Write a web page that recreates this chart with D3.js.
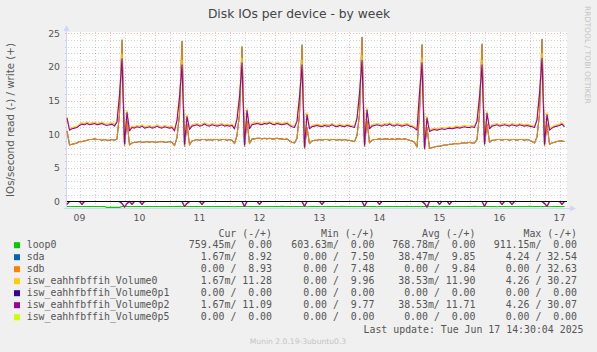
<!DOCTYPE html>
<html><head><meta charset="utf-8">
<script src="https://cdn.jsdelivr.net/npm/d3@7"></script>
<style>html,body{margin:0;padding:0;background:#f0f0f0;}svg{display:block;}</style>
</head><body>
<svg id="chart" width="597" height="352"></svg>
<script>
// ---------- DATA (hourly samples, starting 2025-06-09 07:00) ----------
const startTime = new Date(2025, 5, 9, 7, 0);
const endTime = new Date(2025, 5, 17, 15, 0);
const dayLabels = ["09","10","11","12","13","14","15","16","17"];
const yTicks = [0, 5, 10, 15, 20, 25];

const sdbWrite = [
10.5,8.4,8.5,8.6,8.7,8.9,8.9,9.0,9.1,9.2,9.2,9.3,9.2,9.2,9.1,9.2,9.1,9.1,9.2,9.1,9.3,
13.0,24.0,8.3,12.0,8.4,
8.7,8.8,8.8,8.9,8.8,8.8,8.9,8.8,8.9,8.8,8.8,8.9,8.9,8.8,8.8,8.9,8.8,
8.3,9.5,
13.0,23.8,8.2,11.5,8.4,
9.0,9.1,9.2,9.1,9.2,9.2,9.1,9.2,9.1,9.2,9.2,9.1,9.2,9.2,9.1,9.2,9.1,
8.6,9.8,
13.0,23.0,8.2,12.0,8.6,
9.3,9.3,9.4,9.4,9.3,9.4,9.3,9.4,9.3,9.3,9.4,9.3,9.3,9.2,9.3,9.0,8.8,8.7,
9.4,
13.0,23.1,7.9,11.0,8.6,
9.0,9.1,9.1,9.2,9.1,9.2,9.2,9.1,9.2,9.2,9.1,9.2,9.1,9.2,9.1,9.1,9.0,8.9,
9.8,
13.0,24.4,8.2,12.0,8.7,
9.1,9.2,9.2,9.3,9.2,9.3,9.3,9.2,9.3,9.2,9.3,9.3,9.2,9.3,9.2,9.1,9.0,
8.8,8.1,
13.0,23.3,7.8,11.0,7.9,
8.0,8.1,8.2,8.2,8.3,8.4,8.4,8.5,8.5,8.6,8.6,8.6,8.7,8.7,8.7,8.8,8.7,8.7,
9.2,
13.0,23.4,8.4,11.5,8.8,
9.1,9.1,9.2,9.2,9.1,9.2,9.2,9.1,9.2,9.2,9.1,9.2,9.2,9.1,9.2,9.1,8.9,8.7,
9.6,
13.0,24.1,8.3,11.5,8.5,
8.7,8.8,8.9,9.0,9.0,8.9];

const sdaWrite = [
10.5,8.4,8.5,8.6,8.7,8.9,8.9,9.0,9.1,9.2,9.2,9.3,9.2,9.2,9.1,9.2,9.1,9.1,9.2,9.1,9.3,
13.0,24.0,8.3,12.0,8.4,
8.7,8.8,8.8,8.9,8.8,8.8,8.9,8.8,8.9,8.8,8.8,8.9,8.9,8.8,8.8,8.9,8.8,
8.3,9.5,
13.0,23.8,8.2,11.5,8.4,
9.0,9.1,9.2,9.1,9.2,9.2,9.1,9.2,9.1,9.2,9.2,9.1,9.2,9.2,9.1,9.2,9.1,
8.6,9.8,
13.0,23.0,8.2,12.0,8.6,
9.3,9.3,9.4,9.4,9.3,9.4,9.3,9.4,9.3,9.3,9.4,9.3,9.3,9.2,9.3,9.0,8.8,8.7,
9.4,
13.0,23.3,7.9,11.0,8.6,
9.0,9.1,9.1,9.2,9.1,9.2,9.2,9.1,9.2,9.2,9.1,9.2,9.1,9.2,9.1,9.1,9.0,8.9,
9.8,
13.0,24.4,8.2,12.0,8.7,
9.1,9.2,9.2,9.3,9.2,9.3,9.3,9.2,9.3,9.2,9.3,9.3,9.2,9.3,9.2,9.1,9.0,
8.8,8.1,
13.0,23.3,7.8,11.0,7.9,
8.0,8.1,8.2,8.2,8.3,8.4,8.4,8.5,8.5,8.6,8.6,8.6,8.7,8.7,8.7,8.8,8.7,8.7,
9.2,
13.0,23.4,8.4,11.5,8.8,
9.1,9.1,9.2,9.2,9.1,9.2,9.2,9.1,9.2,9.2,9.1,9.2,9.2,9.1,9.2,9.1,8.9,8.7,
9.6,
13.0,24.1,8.3,11.5,8.5,
8.7,8.8,8.9,9.0,9.0,8.9];

const vol0p2Write = [
12.4,10.6,10.8,10.9,11.0,11.3,11.5,11.4,11.6,11.4,11.5,11.6,11.4,11.5,11.6,11.4,11.3,11.4,11.5,11.2,11.8,
15.8,21.2,8.6,13.2,10.5,
11.0,10.9,11.1,11.0,11.2,10.9,11.0,11.1,10.9,11.0,11.2,11.0,10.9,11.1,11.0,10.9,11.0,
10.5,12.0,
15.5,20.3,8.5,12.6,10.7,
11.2,11.3,11.4,11.2,11.3,11.5,11.3,11.2,11.4,11.3,11.2,11.3,11.4,11.2,11.3,11.2,11.3,
10.8,12.2,
15.5,20.6,8.4,13.5,10.8,
11.4,11.5,11.6,11.5,11.4,11.6,11.5,11.7,11.5,11.4,11.6,11.5,11.4,11.5,11.6,11.3,11.1,11.0,
11.9,
15.5,20.3,8.1,12.9,10.8,
11.1,11.2,11.3,11.2,11.1,11.3,11.2,11.2,11.4,11.2,11.1,11.3,11.2,11.1,11.3,11.2,11.1,11.0,
12.3,
16.0,21.0,8.4,13.6,10.8,
11.2,11.3,11.4,11.3,11.2,11.4,11.3,11.5,11.3,11.2,11.4,11.3,11.2,11.3,11.4,11.2,11.1,
10.9,10.6,
16.1,20.6,7.9,12.4,10.4,
10.6,10.7,10.6,10.7,10.8,10.7,10.8,10.9,10.8,10.9,11.0,10.9,11.0,11.1,11.0,11.0,11.1,11.0,
11.9,
15.5,20.3,8.6,13.1,10.8,
11.2,11.3,11.4,11.2,11.3,11.4,11.3,11.2,11.4,11.3,11.2,11.4,11.3,11.2,11.3,11.2,11.1,11.0,
12.1,
16.0,21.3,8.5,12.9,10.6,
10.9,11.1,11.2,11.3,11.5,11.1];

const vol0Write = [
12.6,10.8,11.0,11.1,11.2,11.5,11.7,11.6,11.8,11.6,11.7,11.8,11.6,11.7,11.8,11.6,11.5,11.6,11.7,11.4,12.0,
16.2,21.9,8.8,13.5,10.7,
11.2,11.1,11.3,11.2,11.4,11.1,11.2,11.3,11.1,11.2,11.4,11.2,11.1,11.3,11.2,11.1,11.2,
10.7,12.2,
15.9,21.0,8.7,12.9,10.9,
11.4,11.5,11.6,11.4,11.5,11.7,11.5,11.4,11.6,11.5,11.4,11.5,11.6,11.4,11.5,11.4,11.5,
11.0,12.4,
15.9,21.3,8.6,13.8,11.0,
11.6,11.7,11.8,11.7,11.6,11.8,11.7,11.9,11.7,11.6,11.8,11.7,11.6,11.7,11.8,11.5,11.3,11.2,
12.1,
15.9,21.0,8.3,13.2,11.0,
11.3,11.4,11.5,11.4,11.3,11.5,11.4,11.4,11.6,11.4,11.3,11.5,11.4,11.3,11.5,11.4,11.3,11.2,
12.5,
16.4,21.7,8.6,13.9,11.0,
11.4,11.5,11.6,11.5,11.4,11.6,11.5,11.7,11.5,11.4,11.6,11.5,11.4,11.5,11.6,11.4,11.3,
11.1,10.8,
16.5,21.3,8.1,12.7,10.6,
10.8,10.9,10.8,10.9,11.0,10.9,11.0,11.1,11.0,11.1,11.2,11.1,11.2,11.3,11.2,11.2,11.3,11.2,
12.1,
15.9,21.0,8.8,13.4,11.0,
11.4,11.5,11.6,11.4,11.5,11.6,11.5,11.4,11.6,11.5,11.4,11.6,11.5,11.4,11.5,11.4,11.3,11.2,
12.3,
16.4,22.0,8.7,13.2,10.8,
11.1,11.3,11.4,11.5,11.7,11.3];

// reads (shown below zero)
const loop0Read = [
0.76,0.76,0.75,0.76,0.76,0.76,0.75,0.76,0.76,0.76,0.76,0.75,0.76,0.76,0.76,0.76,0.88,0.88,0.88,0.88,
0.88,0.88,0.76,0.76,0.75,0.76,0.76,0.76,0.76,0.75,0.76,0.76,0.76,0.76,0.76,0.75,0.76,0.76,0.76,0.76,
0.76,0.75,0.76,0.76,0.76,0.72,0.76,0.76,0.76,0.76,0.75,0.76,0.76,0.76,0.76,0.76,0.75,0.76,0.76,0.76,
0.76,0.76,0.75,0.76,0.76,0.76,0.76,0.80,0.76,0.76,0.76,0.75,0.76,0.76,0.76,0.76,0.76,0.75,0.76,0.76,
0.76,0.76,0.76,0.75,0.76,0.76,0.72,0.76,0.76,0.76,0.76,0.75,0.76,0.76,0.76,0.76,0.80,0.76,0.76,0.76,
0.76,0.75,0.76,0.76,0.76,0.76,0.76,0.75,0.76,0.76,0.72,0.76,0.76,0.76,0.75,0.76,0.76,0.76,0.76,0.76,
0.75,0.76,0.76,0.76,0.80,0.76,0.76,0.75,0.76,0.76,0.76,0.76,0.76,0.75,0.76,0.76,0.72,0.76,0.76,0.76,
0.76,0.76,0.75,0.76,0.76,0.76,0.76,0.76,0.75,0.80,0.76,0.76,0.76,0.76,0.75,0.76,0.76,0.76,0.76,0.76,
0.75,0.76,0.76,0.72,0.76,0.76,0.76,0.75,0.76,0.76,0.76,0.76,0.80,0.76,0.75,0.76,0.76,0.76,0.76,0.76,
0.75,0.76,0.76,0.76,0.76,0.72,0.76,0.76,0.75,0.76,0.76,0.76,0.76,0.80,0.76,0.75,0.76,0.76,0.76,0.76];

const volRead = [
0.45,0,0,0,0,0,0.45,0,0,0, 0,0,0,0,0,0,0,0,0,0,
0,0,0.3,0.85,0.3,0,0.45,0,0,0, 0.45,0,0,0,0,0,0,0,0,0,
0,0,0,0,0,0,0,0.75,0.3,0, 0,0,0,0,0.45,0,0,0,0,0,
0,0,0,0,0,0,0,0,0,0, 0,0.75,0,0,0,0,0,0.45,0,0,
0,0,0,0,0,0,0,0,0,0, 0,0,0,0,0,0.7,0,0,0,0,
0,0,0.45,0,0,0,0,0,0,0, 0,0,0,0,0,0,0,0,0,0.7,
0,0,0,0,0,0.45,0,0,0,0, 0,0,0,0,0,0,0,0,0,0,
0,0,0,0.3,0.85,0,0,0,0,0.45, 0,0,0,0.45,0,0,0,0,0,0,
0,0,0,0,0,0,0,0.7,0,0, 0,0,0,0,0.45,0,0,0,0.45,0,
0,0,0,0,0,0,0,0,0,0, 0,0.3,0.75,0,0,0,0,0,0.45,0];

const zeroSeries = new Array(200).fill(0);

const names = ["loop0","sda","sdb","isw_eahhfbffih_Volume0","isw_eahhfbffih_Volume0p1","isw_eahhfbffih_Volume0p2","isw_eahhfbffih_Volume0p5"];
const colors = ["#00CC00","#0066B3","#FF8000","#FFCC00","#330099","#990099","#CCFF00"];
const curVals = ["759.45m/  0.00","1.67m/  8.92","0.00 /  8.93","1.67m/ 11.28","0.00 /  0.00","1.67m/ 11.09","0.00 /  0.00"];
const minVals = ["603.63m/  0.00","0.00 /  7.50","0.00 /  7.48","0.00 /  9.96","0.00 /  0.00","0.00 /  9.77","0.00 /  0.00"];
const avgVals = ["768.78m/  0.00","38.47m/  9.85","0.00 /  9.84","38.53m/ 11.90","0.00 /  0.00","38.53m/ 11.71","0.00 /  0.00"];
const maxVals = ["911.15m/  0.00","4.24 / 32.54","0.00 / 32.63","4.26 / 30.27","0.00 /  0.00","4.26 / 30.07","0.00 /  0.00"];

// ---------- DRAW ----------
const svg = d3.select("#chart");
const W = 597, H = 352;
const L = 67, R = 567, T = 32, B = 207.5;
const FONT = "DejaVu Sans, sans-serif";
const MONO = "DejaVu Sans Mono, monospace";

svg.append("rect").attr("width", W).attr("height", H).attr("fill", "#f0f0f0");

const x = d3.scaleTime().domain([startTime, endTime]).range([L, R]);
const y = d3.scaleLinear().domain([-0.9, 25]).range([B, 33.3]);
const tAt = i => new Date(startTime.getTime() + i * 3600 * 1000);

svg.append("rect").attr("x", L).attr("y", T).attr("width", R - L).attr("height", B - T).attr("fill", "#ffffff");

const px = v => Math.round(v) + 0.5;
const gridMinor = "rgba(120,120,120,0.33)";
const gridMajor = "rgba(235,70,70,0.36)";

// horizontal grid
const g = svg.append("g").attr("shape-rendering", "crispEdges");
d3.range(0, 26, 1).forEach(v => {
  const major = v % 5 === 0;
  g.append("line").attr("x1", L - 2).attr("x2", R + 1).attr("y1", px(y(v))).attr("y2", px(y(v)))
    .attr("stroke", major ? gridMajor : gridMinor).attr("stroke-dasharray", "1,2").attr("stroke-width", 1);
});
// vertical grid (6h minor, daily major)
const sixH = d3.timeHour.every(6).range(startTime, endTime);
sixH.forEach(t => {
  const major = t.getHours() === 0;
  g.append("line").attr("x1", px(x(t))).attr("x2", px(x(t))).attr("y1", T).attr("y2", B + 2)
    .attr("stroke", major ? gridMajor : gridMinor).attr("stroke-dasharray", "1,2").attr("stroke-width", 1);
});

// axes lines + arrows
const axisCol = "#CFD6F8";
svg.append("line").attr("x1", L - 0.5).attr("x2", L - 0.5).attr("y1", 29).attr("y2", B + 2).attr("stroke", axisCol);
svg.append("line").attr("x1", L - 3).attr("x2", R + 5).attr("y1", px(B)).attr("y2", px(B)).attr("stroke", axisCol);
svg.append("path").attr("d", `M${L - 3.5},${31}L${L - 0.5},${25}L${L + 2.5},${31}Z`).attr("fill", axisCol);
svg.append("path").attr("d", `M${R + 3},${px(B) - 3}L${R + 9},${px(B)}L${R + 3},${px(B) + 3}Z`).attr("fill", axisCol);

// y tick labels
svg.append("g").selectAll("text").data(yTicks).join("text")
  .attr("x", 60).attr("y", d => y(d) + 3.5).attr("text-anchor", "end")
  .attr("font-family", FONT).attr("font-size", "9.3px").attr("fill", "#555").text(d => d);

// x labels at noon of each day
svg.append("g").selectAll("text").data(dayLabels).join("text")
  .attr("x", d => x(new Date(2025, 5, +d, 12))).attr("y", 220.5).attr("text-anchor", "middle")
  .attr("font-family", FONT).attr("font-size", "9.3px").attr("fill", "#555").text(d => d);

// lines
const lineGen = d3.line().x((d, i) => x(tAt(i))).y(d => y(d));
const plot = svg.append("g");
function drawLine(arr, col, neg) {
  plot.append("path").datum(neg ? arr.map(v => -v) : arr).attr("d", lineGen)
    .attr("fill", "none").attr("stroke", col).attr("stroke-width", 1.1).attr("stroke-linejoin", "round");
}
drawLine(loop0Read, colors[0], true); drawLine(zeroSeries, colors[0], false);
drawLine(volRead, colors[1], true); drawLine(sdaWrite, colors[1], false);
drawLine(zeroSeries, colors[2], true); drawLine(sdbWrite, colors[2], false);
drawLine(volRead, colors[3], true); drawLine(vol0Write, colors[3], false);
drawLine(zeroSeries, colors[4], true); drawLine(zeroSeries, colors[4], false);
drawLine(volRead, colors[5], true); drawLine(vol0p2Write, colors[5], false);
drawLine(zeroSeries, colors[6], true); drawLine(zeroSeries, colors[6], false);
// zero rule
svg.append("line").attr("x1", L).attr("x2", R).attr("y1", px(y(0))).attr("y2", px(y(0))).attr("stroke", "#000").attr("stroke-width", 1);

// title
svg.append("text").attr("x", 299).attr("y", 17.5).attr("text-anchor", "middle")
  .attr("font-family", FONT).attr("font-size", "12.3px").attr("fill", "#444").text("Disk IOs per device - by week");
// y title
svg.append("text").attr("transform", "translate(13.5,120) rotate(-90)").attr("text-anchor", "middle")
  .attr("font-family", FONT).attr("font-size", "10.3px").attr("fill", "#555").text("IOs/second read (-) / write (+)");
// watermark
svg.append("text").attr("transform", "translate(584.5,6) rotate(90)").attr("text-anchor", "start")
  .attr("font-family", FONT).attr("font-size", "7.6px").attr("fill", "#c4c4c4").text("RRDTOOL / TOBI OETIKER");

// legend
const leg = svg.append("g").attr("font-family", MONO).attr("font-size", "9.9px").attr("fill", "#555");
const cols = [[272, "Cur (-/+)", curVals], [374.5, "Min (-/+)", minVals], [475.5, "Avg (-/+)", avgVals], [577, "Max (-/+)", maxVals]];
cols.forEach(([cx, head]) => {
  leg.append("text").attr("x", cx).attr("y", 236.8).attr("text-anchor", "end").attr("xml:space", "preserve").text(head);
});
names.forEach((n, k) => {
  const cy = 244.7 + 12 * k;
  leg.append("rect").attr("x", 14).attr("y", cy - 2.5).attr("width", 6).attr("height", 6).attr("fill", colors[k]);
  leg.append("text").attr("x", 26.7).attr("y", cy + 3.7).attr("xml:space", "preserve").text(n);
  cols.forEach(([cx, , vals]) => {
    leg.append("text").attr("x", cx).attr("y", cy + 3.7).attr("text-anchor", "end").attr("xml:space", "preserve").text(vals[k]);
  });
});
leg.append("text").attr("x", 583.5).attr("y", 332.7).attr("text-anchor", "end").attr("xml:space", "preserve")
  .text("Last update: Tue Jun 17 14:30:04 2025");
svg.append("text").attr("x", 298).attr("y", 343.5).attr("text-anchor", "middle")
  .attr("font-family", FONT).attr("font-size", "7.6px").attr("fill", "#c4c4c4").text("Munin 2.0.19-3ubuntu0.3");
</script>
</body></html>
